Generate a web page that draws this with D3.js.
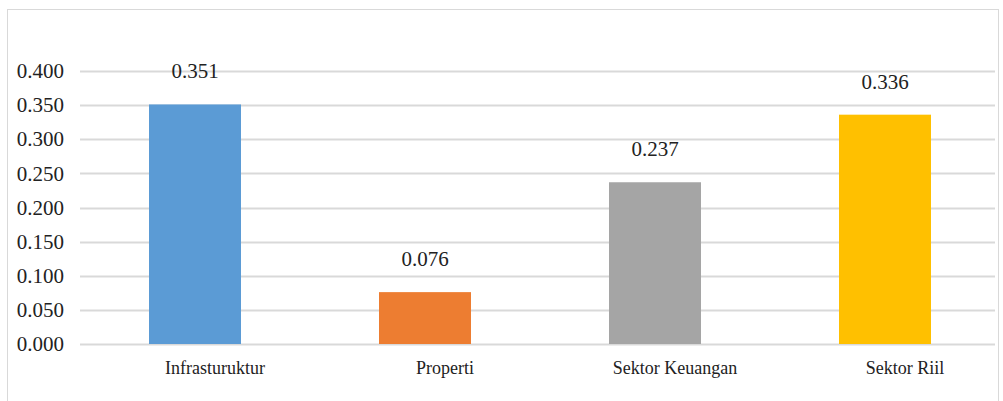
<!DOCTYPE html>
<html>
<head>
<meta charset="utf-8">
<script src="https://cdn.jsdelivr.net/npm/d3@7"></script>
<style>
  body { margin: 0; background: #fff; }
</style>
</head>
<body>
<div id="chart"></div>
<script>
  var categories = ['Infrasturuktur', 'Properti', 'Sektor Keuangan', 'Sektor Riil'];
  var values = [0.351, 0.076, 0.237, 0.336];
  var colors = ['#5b9bd5', '#ed7d31', '#a5a5a5', '#ffc000'];
  var ticks = [0, 0.05, 0.1, 0.15, 0.2, 0.25, 0.3, 0.35, 0.4];

  var width = 1003;
  var height = 401;
  var font = '"Liberation Serif"';

  var svg = d3.select('#chart')
    .append('svg')
    .attr('width', width)
    .attr('height', height);

  // outer frame of the chart
  svg.append('rect')
    .attr('x', 7.5)
    .attr('y', 9.5)
    .attr('width', 991)
    .attr('height', 400)
    .attr('fill', 'none')
    .attr('stroke', '#d9d9d9');

  var x = d3.scaleBand()
    .domain(categories)
    .range([80, 1000])
    .paddingInner(0.6)
    .paddingOuter(0.3);

  var y = d3.scaleLinear()
    .domain([0, 0.4])
    .range([344, 71]);

  // gridlines
  svg.append('g')
    .selectAll('line')
    .data(ticks)
    .enter()
    .append('line')
    .attr('x1', 80)
    .attr('x2', 995)
    .attr('y1', function(d) { return Math.round(y(d)) + 0.5; })
    .attr('y2', function(d) { return Math.round(y(d)) + 0.5; })
    .attr('stroke', '#d9d9d9')
    .attr('stroke-width', 2);

  // y axis labels
  var yAxis = d3.axisLeft(y)
    .tickValues(ticks)
    .tickFormat(d3.format('.3f'))
    .tickSize(0)
    .tickPadding(0);

  svg.append('g')
    .attr('transform', 'translate(64,0)')
    .call(yAxis)
    .attr('font-family', null)
    .attr('font-size', null)
    .call(function(g) { g.select('.domain').remove(); })
    .selectAll('text')
    .style('font-family', font)
    .style('font-size', '21px')
    .attr('fill', '#222');

  // bars
  svg.append('g')
    .selectAll('rect')
    .data(values)
    .enter()
    .append('rect')
    .attr('x', function(d, i) { return x(categories[i]); })
    .attr('y', function(d) { return y(d); })
    .attr('width', x.bandwidth())
    .attr('height', function(d) { return y(0) - y(d); })
    .attr('fill', function(d, i) { return colors[i]; });

  // value labels
  svg.append('g')
    .selectAll('text')
    .data(values)
    .enter()
    .append('text')
    .attr('x', function(d, i) { return x(categories[i]) + x.bandwidth() / 2; })
    .attr('y', function(d) { return y(d) - 26; })
    .attr('text-anchor', 'middle')
    .style('font-family', font)
    .style('font-size', '21px')
    .attr('fill', '#222')
    .text(function(d) { return d3.format('.3f')(d); });

  // category labels, a bit right of the bar centres as in the source
  var xAxis = d3.axisBottom(x).tickSize(0).tickPadding(0);
  svg.append('g')
    .attr('transform', 'translate(20,361)')
    .call(xAxis)
    .attr('font-family', null)
    .attr('font-size', null)
    .call(function(g) { g.select('.domain').remove(); })
    .selectAll('text')
    .style('font-family', font)
    .style('font-size', '18px')
    .attr('fill', '#222');
</script>
</body>
</html>
